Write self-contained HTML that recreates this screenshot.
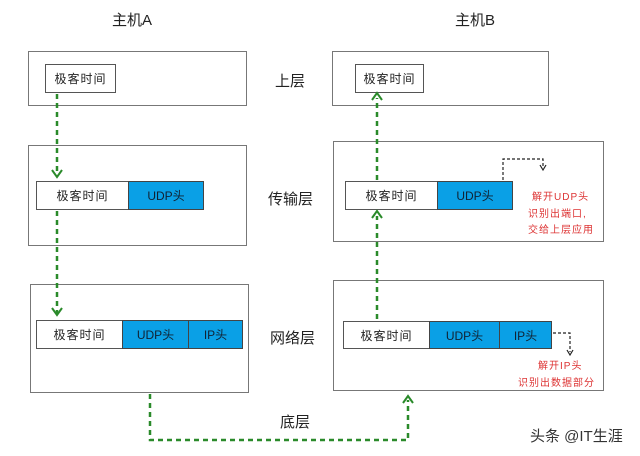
<!DOCTYPE html>
<html><head><meta charset="utf-8"><style>
body{margin:0;width:640px;height:456px;background:#fff;position:relative;overflow:hidden;font-family:"Liberation Sans","Noto Sans CJK SC",sans-serif;}
.a{position:absolute;box-sizing:border-box;}
.box{border:1.5px solid #777;}
.w{background:#fff;border:1.5px solid #555;font-size:12px;color:#222;display:flex;align-items:center;justify-content:center;letter-spacing:1px;}
.b{background:#0aa0e6;border:1.5px solid #444;font-size:12px;color:#123;display:flex;align-items:center;justify-content:center;}
.t{font-size:15px;color:#222;}
.r{font-size:10px;color:#d33;letter-spacing:1px;}
</style></head><body>
<div class="a t" style="left:112px;top:9px;">主机A</div>
<div class="a t" style="left:455px;top:9px;">主机B</div>
<div class="a t" style="left:275px;top:70px;">上层</div>
<div class="a t" style="left:268px;top:188px;">传输层</div>
<div class="a t" style="left:270px;top:327px;">网络层</div>
<div class="a t" style="left:280px;top:411px;">底层</div>

<div class="a box" style="left:28px;top:51px;width:219px;height:55px;"></div>
<div class="a w" style="left:45px;top:64px;width:71px;height:29px;">极客时间</div>
<div class="a box" style="left:28px;top:145px;width:219px;height:101px;"></div>
<div class="a w" style="left:36px;top:181px;width:93px;height:29px;">极客时间</div>
<div class="a b" style="left:128px;top:181px;width:76px;height:29px;">UDP头</div>
<div class="a box" style="left:30px;top:284px;width:219px;height:109px;"></div>
<div class="a w" style="left:36px;top:320px;width:87px;height:29px;">极客时间</div>
<div class="a b" style="left:122px;top:320px;width:67px;height:29px;">UDP头</div>
<div class="a b" style="left:188px;top:320px;width:55px;height:29px;">IP头</div>

<div class="a box" style="left:332px;top:51px;width:217px;height:55px;"></div>
<div class="a w" style="left:355px;top:64px;width:69px;height:29px;">极客时间</div>
<div class="a box" style="left:333px;top:141px;width:271px;height:101px;"></div>
<div class="a w" style="left:345px;top:181px;width:93px;height:29px;">极客时间</div>
<div class="a b" style="left:437px;top:181px;width:76px;height:29px;">UDP头</div>
<div class="a box" style="left:333px;top:280px;width:271px;height:111px;"></div>
<div class="a w" style="left:343px;top:321px;width:87px;height:28px;">极客时间</div>
<div class="a b" style="left:429px;top:321px;width:71px;height:28px;">UDP头</div>
<div class="a b" style="left:499px;top:321px;width:53px;height:28px;">IP头</div>

<div class="a r" style="left:532px;top:188px;">解开UDP头</div>
<div class="a r" style="left:528px;top:205px;">识别出端口,</div>
<div class="a r" style="left:528px;top:221px;">交给上层应用</div>
<div class="a r" style="left:538px;top:357px;">解开IP头</div>
<div class="a r" style="left:518px;top:374px;">识别出数据部分</div>
<div class="a" style="left:530px;top:425px;font-size:15px;color:#333;">头条 @IT生涯</div>

<svg class="a" style="left:0;top:0" width="640" height="456">
<g fill="none" stroke="#2a8a2a" stroke-width="2.5" stroke-dasharray="5,4">
<path d="M57 94V176"/><path d="M57 211V314"/>
<path d="M150 394V440H408V400"/>
<path d="M377 319V216"/><path d="M377 180V98"/>
</g>
<g fill="none" stroke="#2a8a2a" stroke-width="2">
<path d="M52 170L57 177L62 170"/><path d="M52 308L57 315L62 308"/>
<path d="M403 403L408 396L413 403"/>
<path d="M372 218L377 211L382 218"/><path d="M372 100L377 93L382 100"/>
</g>
<g fill="none" stroke="#222" stroke-width="1.2" stroke-dasharray="3,2">
<path d="M503 180V159H543V168"/><path d="M553 333H570V352"/>
</g>
<g fill="none" stroke="#222" stroke-width="1.2">
<path d="M540 165L543 170L546 165"/><path d="M567 350L570 355L573 350"/>
</g>
</svg>
</body></html>
